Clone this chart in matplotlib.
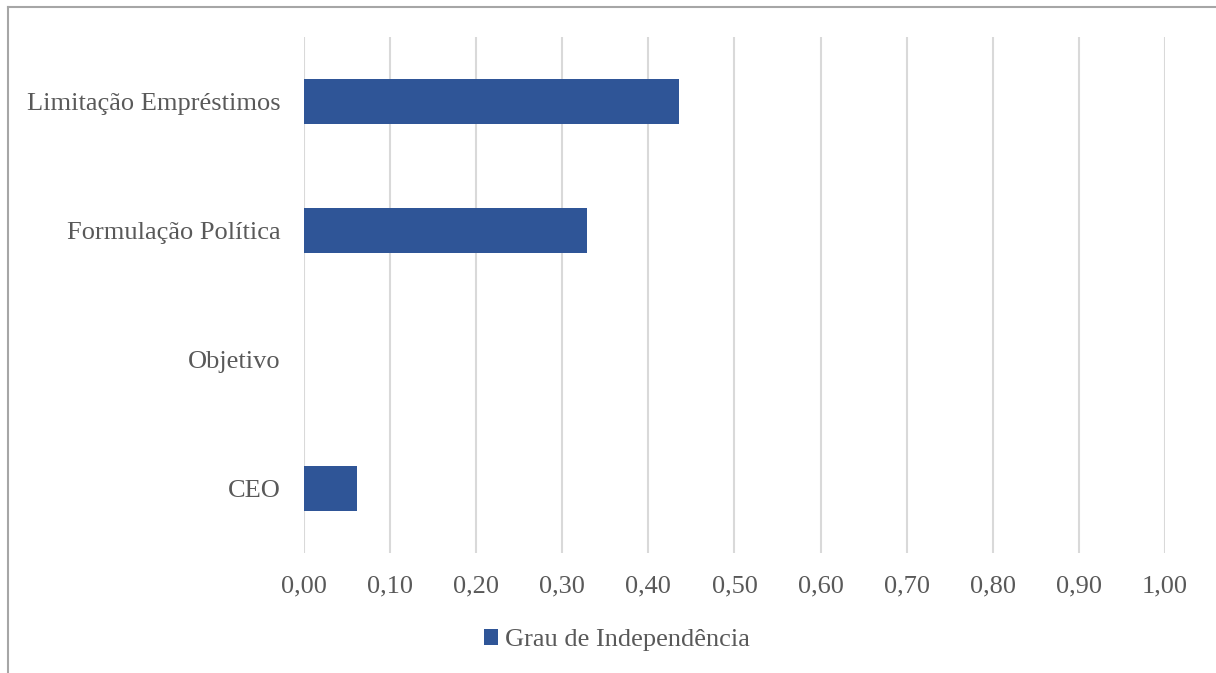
import matplotlib

matplotlib.use("Agg")

import matplotlib.pyplot as plt
from matplotlib.lines import Line2D
from matplotlib.patches import Patch

plt.rcParams["font.family"] = ["Liberation Serif", "DejaVu Serif"]

categories = ["CEO", "Objetivo", "Formulação Política", "Limitação Empréstimos"]
values = [0.062, 0.0, 0.329, 0.435]
x_ticks = [0.0, 0.1, 0.2, 0.3, 0.4, 0.5, 0.6, 0.7, 0.8, 0.9, 1.0]
series_name = "Grau de Independência"

BAR_COLOR = "#2F5597"
TEXT_COLOR = "#595959"
GRID_COLOR = "#D9D9D9"
FONT_SIZE = 19

fig = plt.figure(figsize=(12.16, 6.73), dpi=100)
ax = fig.add_axes([0.25, 0.1783, 0.708, 0.767])

ax.barh(range(len(categories)), values, height=0.35, color=BAR_COLOR, zorder=3)

ax.set_xlim(0, 1.0)
ax.set_ylim(-0.5, len(categories) - 0.5)
ax.set_xticks(x_ticks)
ax.set_xticklabels([f"{t:.2f}".replace(".", ",") for t in x_ticks])
ax.set_yticks(range(len(categories)))
ax.set_yticklabels(categories)

ax.tick_params(axis="x", length=0, pad=16, labelsize=FONT_SIZE, labelcolor=TEXT_COLOR)
ax.tick_params(axis="y", length=0, pad=17, labelsize=FONT_SIZE, labelcolor=TEXT_COLOR)
ax.grid(axis="x", color=GRID_COLOR, linewidth=1.5, zorder=0)
for spine in ax.spines.values():
    spine.set_visible(False)

legend_items = [Patch(facecolor=BAR_COLOR, edgecolor="none", label=series_name)]
fig.legend(
    handles=legend_items,
    loc="center",
    bbox_to_anchor=(617 / 1216, 0.049),
    frameon=False,
    fontsize=FONT_SIZE,
    labelcolor=TEXT_COLOR,
    handlelength=0.53,
    handleheight=0.53,
    handletextpad=0.25,
)

# thin outer frame along top and left edges
fig.add_artist(Line2D([8 / 1216, 1.0], [1 - 7 / 673, 1 - 7 / 673], color="#A6A6A6", linewidth=1.5))
fig.add_artist(Line2D([8 / 1216, 8 / 1216], [0.0, 1 - 7 / 673], color="#A6A6A6", linewidth=1.5))

fig.savefig("out.png", dpi=100)
